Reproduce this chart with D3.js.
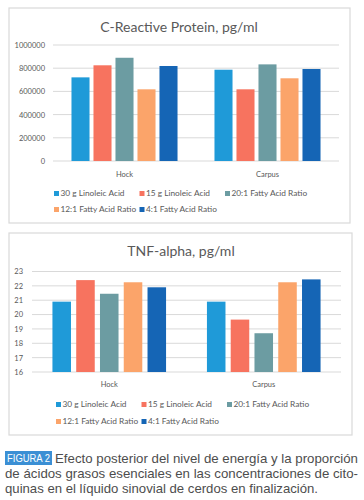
<!DOCTYPE html>
<html><head><meta charset="utf-8">
<script src="https://cdn.jsdelivr.net/npm/d3@7"></script>
<style>body{margin:0;background:#fff}svg{display:block}</style>
</head><body>
<svg id="c" width="364" height="500"></svg>
<script>
const categories = ["Hock", "Carpus"];
const series = ["30 g Linoleic Acid", "15 g Linoleic Acid", "20:1 Fatty Acid Ratio", "12:1 Fatty Acid Ratio", "4:1 Fatty Acid Ratio"];
const colors = ["#1f9ad8", "#f7735f", "#6c9ca2", "#fba46a", "#1565b5"];
// values per series: [Hock, Carpus]
const crpValues = [[721000, 787000], [825000, 618000], [890000, 833000], [618000, 713000], [819000, 793000]];
const tnfValues = [[20.9, 20.9], [22.4, 19.65], [21.45, 18.7], [22.25, 22.25], [21.9, 22.45]];
const crpTicks = [0, 200000, 400000, 600000, 800000, 1000000];
const tnfTicks = [16, 17, 18, 19, 20, 21, 22, 23];
const captionLabel = "FIGURA 2";
const captionLines = ["Efecto posterior del nivel de energía y la proporción", "de ácidos grasos esenciales en las concentraciones de cito-", "quinas en el líquido sinovial de cerdos en finalización."];

const svg = d3.select("#c");
const FONT = "Lato, 'Open Sans', sans-serif";
const TXT = "#595959";

function chart(cfg) {
  const g = svg.append("g");
  g.append("rect").attr("x", cfg.box[0]).attr("y", cfg.box[1]).attr("width", cfg.box[2]).attr("height", cfg.box[3])
    .attr("fill", "#fff").attr("stroke", "#d9d9d9").attr("stroke-width", 1.2);
  g.append("text").attr("x", cfg.titleX).attr("y", cfg.titleY).attr("text-anchor", "middle")
    .attr("font-family", FONT).attr("font-size", 14).attr("fill", TXT).text(cfg.title);
  const y = d3.scaleLinear().domain(cfg.domain).range(cfg.yRange);
  const x0 = d3.scaleBand().domain(categories).range(cfg.xRange);
  const x1 = d3.scaleBand().domain(series).range([0, x0.bandwidth()]).paddingInner(cfg.pi).paddingOuter(cfg.po);
  g.selectAll(".grid").data(cfg.ticks).join("line")
    .attr("x1", cfg.xRange[0]).attr("x2", cfg.xRange[1])
    .attr("y1", d => y(d)).attr("y2", d => y(d))
    .attr("stroke", "#d9d9d9").attr("stroke-width", 1);
  const ax = d3.axisLeft(y).tickValues(cfg.ticks).tickSize(0).tickPadding(0).tickFormat(d3.format("d"));
  const ag = g.append("g").attr("transform", `translate(${cfg.labelX},0)`).call(ax);
  ag.select(".domain").remove();
  ag.selectAll("text").attr("font-family", FONT).attr("font-size", 7.5).attr("fill", TXT);
  series.forEach((s, i) => {
    g.selectAll(".b" + i).data(cfg.values[i]).join("rect")
      .attr("x", (d, j) => x0(categories[j]) + x1(s))
      .attr("width", x1.bandwidth())
      .attr("y", d => y(d))
      .attr("height", d => y(cfg.domain[0]) - y(d))
      .attr("fill", colors[i]);
  });
  const xa = d3.axisBottom(x0).tickSize(0).tickPadding(0);
  const xg = g.append("g").attr("transform", `translate(0,${cfg.catY})`).call(xa);
  xg.select(".domain").remove();
  xg.selectAll("text").attr("font-family", FONT).attr("font-size", 7.5).attr("fill", TXT);
  const lx = d3.scaleLinear().domain([0, 1]).range([cfg.legX, cfg.legX + cfg.legStep]);
  series.forEach((s, i) => {
    const col = i < 3 ? i : i - 3, row = i < 3 ? 0 : 1;
    const gx = lx(col), gy = cfg.legY + row * cfg.legRow;
    g.append("rect").attr("x", gx).attr("y", gy - 5).attr("width", 5).attr("height", 5).attr("fill", colors[i]);
    g.append("text").attr("x", gx + 6.5).attr("y", gy).attr("font-family", FONT).attr("font-size", 8.3)
      .attr("fill", TXT).text(s);
  });
}

chart({
  box: [9, 8, 341, 215], title: "C-Reactive Protein, pg/ml", titleX: 179, titleY: 32,
  domain: [0, 1000000], yRange: [161, 45], xRange: [53, 339], pi: 0.18, po: 0.84,
  ticks: crpTicks, labelX: 45, values: crpValues, catY: 172, legX: 54, legStep: 85.5, legY: 196, legRow: 16
});
chart({
  box: [9, 233, 343, 202], title: "TNF-alpha, pg/ml", titleX: 181, titleY: 256,
  domain: [16, 23], yRange: [372, 271.5], xRange: [32, 341], pi: 0.22, po: 0.86,
  ticks: tnfTicks, labelX: 23, values: tnfValues, catY: 382, legX: 56, legStep: 85.5, legY: 407, legRow: 17
});

// caption
const cap = svg.append("g").attr("font-family", "'Liberation Sans', Arial, sans-serif").attr("font-size", 12.6).attr("fill", "#4d4d4d");
cap.append("rect").attr("x", 5).attr("y", 451).attr("width", 47).attr("height", 14).attr("fill", "#3b8fd4");
cap.append("text").attr("x", 7).attr("y", 462).attr("fill", "#fff").attr("font-size", 10.5)
  .attr("textLength", 43).attr("lengthAdjust", "spacingAndGlyphs").text(captionLabel);
const capX = [55, 5, 5], capW = [303, 353, 313];
captionLines.forEach((t, i) => {
  cap.append("text").attr("x", capX[i]).attr("y", 463 + i * 15)
    .attr("textLength", capW[i]).attr("lengthAdjust", "spacingAndGlyphs").text(t);
});
</script>
</body></html>
